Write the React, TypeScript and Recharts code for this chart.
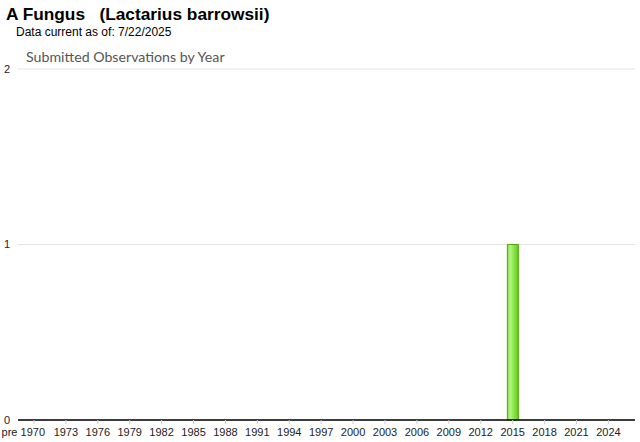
import React from 'react';
import { BarChart, Bar, XAxis, YAxis, CartesianGrid } from 'recharts';

const title = 'A Fungus   (Lactarius barrowsii)';
const asOf = 'Data current as of: 7/22/2025';
const chartTitle = 'Submitted Observations by Year';

// first bucket covers everything before 1970, then one bucket per year
const years: string[] = ['pre 1970'];
for (let y = 1970; y <= 2026; y++) years.push(String(y));

const observed: Record<string, number> = { '2015': 1 };
const yTicks = [0, 1, 2];
const shownYears = ['pre 1970', '1973', '1976', '1979', '1982', '1985', '1988', '1991', '1994', '1997', '2000', '2003', '2006', '2009', '2012', '2015', '2018', '2021', '2024'];
// 1970 gets a tick mark but its label is hidden behind "pre 1970"
const hiddenLabels = ['1970'];

const data = years.map((year) => ({ year, count: observed[year] ?? 0 }));

const font = 'Arial, "Liberation Sans", sans-serif';

const YearTick = (props: any) => {
    const { x, y, payload } = props;
    const isPre = payload.value === 'pre 1970';
    const hidden = hiddenLabels.includes(payload.value);
    return (
        <g>
            {!isPre && <line x1={x} x2={x} y1={y - 8} y2={y - 4} stroke="#ccc" />}
            {!hidden && (
                <text x={x} y={y} dy="0.71em" textAnchor="middle" fontSize={11} fill="#222" fontFamily={font}>
                    {payload.value}
                </text>
            )}
        </g>
    );
};

export default function App() {
    return (
        <div style={{ position: 'absolute', left: 0, top: 0, width: 640, height: 442, background: '#fff' }}>
            <div style={{ position: 'absolute', left: 6, top: 4, fontFamily: font, fontWeight: 'bold', fontSize: 17.3, whiteSpace: 'pre', color: '#000' }}>
                {title}
            </div>
            <div style={{ position: 'absolute', left: 16, top: 25, fontFamily: font, fontSize: 12, color: '#000' }}>
                {asOf}
            </div>
            <div style={{ position: 'absolute', left: 26, top: 48, fontFamily: 'Lato, sans-serif', fontSize: 14.2, color: '#555' }}>
                {chartTitle}
            </div>
            <BarChart width={640} height={442} data={data} margin={{ top: 69, right: 5, left: 0, bottom: 0 }} barCategoryGap={0}>
                <defs>
                    <linearGradient id="greenBar" x1="0" y1="0" x2="1" y2="0">
                        <stop offset="0%" stopColor="#7fd83a" />
                        <stop offset="25%" stopColor="#b6f58a" />
                        <stop offset="55%" stopColor="#8ee84c" />
                        <stop offset="100%" stopColor="#62c81e" />
                    </linearGradient>
                </defs>
                <CartesianGrid vertical={false} stroke="#e2e2e2" />
                <XAxis
                    dataKey="year"
                    ticks={[...shownYears, ...hiddenLabels]}
                    interval={0}
                    height={22}
                    tickLine={false}
                    axisLine={{ stroke: '#000', strokeWidth: 1.5 }}
                    tick={<YearTick />}
                />
                <YAxis
                    domain={[0, 2]}
                    ticks={yTicks}
                    width={18}
                    axisLine={false}
                    tickLine={false}
                    tick={{ fontSize: 11, fill: '#222', fontFamily: font }}
                />
                <Bar dataKey="count" fill="url(#greenBar)" stroke="#4fa80c" strokeWidth={1} isAnimationActive={false} />
            </BarChart>
        </div>
    );
}
